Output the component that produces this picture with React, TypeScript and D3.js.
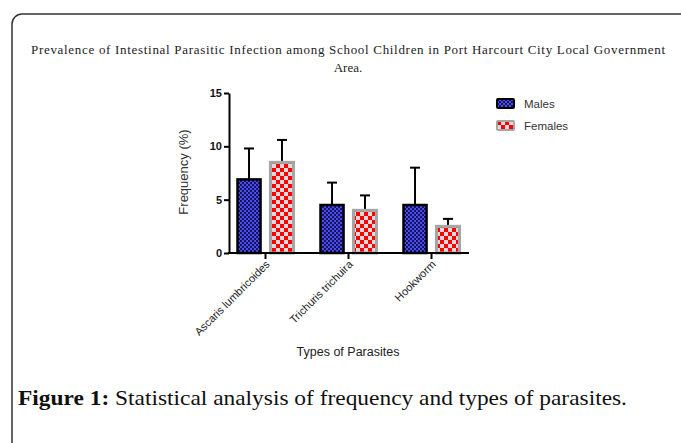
import React, { useEffect, useRef } from "react";
import * as d3 from "d3";

const categories = ["Ascaris lumbricoides", "Trichuris trichuira", "Hookworm"];
const series = ["Males", "Females"];
const malesValues = [6.9, 4.5, 4.5];
const malesUpper = [9.8, 6.6, 8.0];
const femalesValues = [8.5, 4.0, 2.5];
const femalesUpper = [10.6, 5.4, 3.2];
const yTicks = [0, 5, 10, 15];

const titleLine1 =
  "Prevalence of Intestinal Parasitic Infection among School Children in Port Harcourt City Local Government";
const titleLine2 = "Area.";

const W = 681;
const H = 443;

export default function App() {
  const ref = useRef<SVGSVGElement>(null);

  useEffect(() => {
    const svg = d3.select(ref.current);
    svg.selectAll("*").remove();

    const defs = svg.append("defs");
    const blue = defs
      .append("pattern")
      .attr("id", "malePat")
      .attr("patternUnits", "userSpaceOnUse")
      .attr("width", 4)
      .attr("height", 4);
    blue.append("rect").attr("width", 4).attr("height", 4).attr("fill", "#4b4bf0");
    blue.append("rect").attr("width", 2).attr("height", 2).attr("fill", "#14145a");
    blue.append("rect").attr("x", 2).attr("y", 2).attr("width", 2).attr("height", 2).attr("fill", "#14145a");

    const red = defs
      .append("pattern")
      .attr("id", "femalePat")
      .attr("patternUnits", "userSpaceOnUse")
      .attr("width", 8)
      .attr("height", 8);
    red.append("rect").attr("width", 8).attr("height", 8).attr("fill", "#e2dada");
    red.append("rect").attr("width", 4).attr("height", 4).attr("fill", "#ff0000");
    red.append("rect").attr("x", 4).attr("y", 4).attr("width", 4).attr("height", 4).attr("fill", "#ff0000");

    // outer frame
    svg
      .append("rect")
      .attr("x", 12)
      .attr("y", 14)
      .attr("width", 720)
      .attr("height", 500)
      .attr("rx", 10)
      .attr("fill", "none")
      .attr("stroke", "#333")
      .attr("stroke-width", 1.5);

    // title
    const title = svg
      .append("g")
      .attr("font-family", "'Liberation Serif', serif")
      .attr("font-size", 13)
      .attr("fill", "#222")
      .attr("text-anchor", "middle");
    title
      .append("text")
      .attr("x", 348)
      .attr("y", 54)
      .attr("textLength", 634)
      .attr("lengthAdjust", "spacing")
      .text(titleLine1);
    title.append("text").attr("x", 348).attr("y", 72).text(titleLine2);

    const x = d3.scaleBand().domain(categories).range([224, 473]);
    const inner = d3
      .scaleBand()
      .domain(series)
      .range([x.bandwidth() / 2 - 28, x.bandwidth() / 2 + 28])
      .paddingInner(0.3);
    const y = d3.scaleLinear().domain([0, 15]).range([253, 93]);

    const data = categories.flatMap((c, i) => [
      { cat: c, s: "Males", v: malesValues[i], up: malesUpper[i] },
      { cat: c, s: "Females", v: femalesValues[i], up: femalesUpper[i] },
    ]);

    const g = svg.append("g");

    // error bars (drawn first so bars cover the stem)
    const err = g
      .selectAll(".err")
      .data(data)
      .join("g")
      .attr("class", "err")
      .attr("stroke", "#000")
      .attr("stroke-width", 2);
    const cx = (d: any) => (x(d.cat) as number) + (inner(d.s) as number) + inner.bandwidth() / 2;
    err
      .append("line")
      .attr("x1", cx)
      .attr("x2", cx)
      .attr("y1", (d) => y(d.v))
      .attr("y2", (d) => y(d.up));
    err
      .append("line")
      .attr("x1", (d) => cx(d) - 5)
      .attr("x2", (d) => cx(d) + 5)
      .attr("y1", (d) => y(d.up))
      .attr("y2", (d) => y(d.up));

    g.selectAll(".bar")
      .data(data)
      .join("rect")
      .attr("class", "bar")
      .attr("x", (d) => (x(d.cat) as number) + (inner(d.s) as number))
      .attr("y", (d) => y(d.v))
      .attr("width", inner.bandwidth())
      .attr("height", (d) => y(0) - y(d.v))
      .attr("fill", (d) => (d.s === "Males" ? "url(#malePat)" : "url(#femalePat)"))
      .attr("stroke", (d) => (d.s === "Males" ? "#000" : "#a6a6a6"))
      .attr("stroke-width", (d) => (d.s === "Males" ? 2.5 : 3));

    // y axis
    const yAxis = g
      .append("g")
      .attr("transform", "translate(229,0)")
      .call(d3.axisLeft(y).tickValues(yTicks).tickSize(5).tickSizeOuter(0));
    yAxis.select(".domain").attr("stroke-width", 2);
    yAxis.selectAll(".tick line").attr("stroke-width", 2);
    yAxis
      .selectAll(".tick text")
      .attr("font-family", "Arial, 'Liberation Sans', sans-serif")
      .attr("font-weight", "bold")
      .attr("font-size", 11)
      .attr("x", -7)
      .attr("fill", "#111");

    // x axis
    g.append("line")
      .attr("x1", 228)
      .attr("x2", 469)
      .attr("y1", y(0))
      .attr("y2", y(0))
      .attr("stroke", "#000")
      .attr("stroke-width", 2);
    const xt = g
      .selectAll(".xtick")
      .data(categories)
      .join("g")
      .attr("class", "xtick")
      .attr("transform", (d) => `translate(${(x(d) as number) + x.bandwidth() / 2},${y(0)})`);
    xt.append("line").attr("y1", 0).attr("y2", 6).attr("stroke", "#000").attr("stroke-width", 2);
    xt.append("text")
      .attr("transform", "translate(5,12) rotate(-45)")
      .attr("text-anchor", "end")
      .attr("font-family", "Arial, 'Liberation Sans', sans-serif")
      .attr("font-size", 11)
      .attr("fill", "#222")
      .text((d) => d);

    // axis titles
    svg
      .append("text")
      .attr("transform", "translate(188,172) rotate(-90)")
      .attr("text-anchor", "middle")
      .attr("font-family", "Arial, 'Liberation Sans', sans-serif")
      .attr("font-size", 13)
      .attr("fill", "#333")
      .text("Frequency (%)");
    svg
      .append("text")
      .attr("x", 348)
      .attr("y", 356)
      .attr("text-anchor", "middle")
      .attr("font-family", "Arial, 'Liberation Sans', sans-serif")
      .attr("font-size", 12.5)
      .attr("fill", "#222")
      .text("Types of Parasites");

    // legend
    const leg = svg
      .selectAll(".leg")
      .data(series)
      .join("g")
      .attr("class", "leg")
      .attr("transform", (d, i) => `translate(497,${99 + i * 22})`);
    leg
      .append("rect")
      .attr("width", 17)
      .attr("height", 9)
      .attr("rx", 1)
      .attr("fill", (d) => (d === "Males" ? "url(#malePat)" : "url(#femalePat)"))
      .attr("stroke", (d) => (d === "Males" ? "#000" : "#a6a6a6"))
      .attr("stroke-width", 2);
    leg
      .append("text")
      .attr("x", 27)
      .attr("y", 9)
      .attr("font-family", "Arial, 'Liberation Sans', sans-serif")
      .attr("font-size", 11.5)
      .attr("fill", "#333")
      .text((d) => d);

    // caption
    const cap = svg
      .append("text")
      .attr("x", 18)
      .attr("y", 405)
      .attr("font-family", "'Liberation Serif', serif")
      .attr("font-size", 21.5)
      .attr("fill", "#111")
      .attr("textLength", 609)
      .attr("lengthAdjust", "spacingAndGlyphs");
    cap.append("tspan").attr("font-weight", "bold").text("Figure 1:");
    cap.append("tspan").text(" Statistical analysis of frequency and types of parasites.");
  }, []);

  return (
    <svg
      ref={ref}
      width={W}
      height={H}
      style={{ position: "absolute", left: 0, top: 0, background: "#fff" }}
    />
  );
}
